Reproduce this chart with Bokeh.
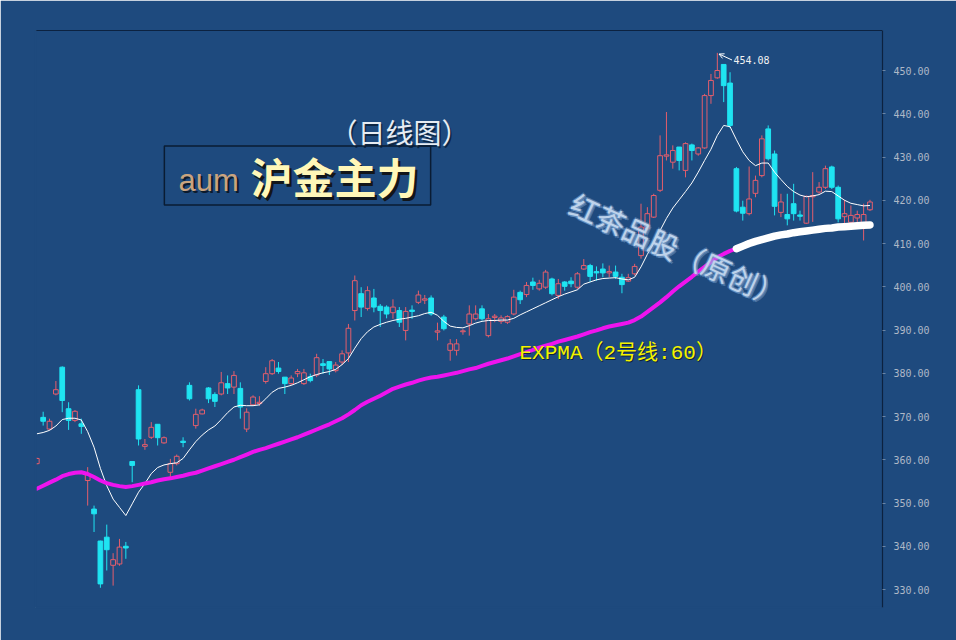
import math
from bokeh.plotting import figure
from bokeh.models import (ColumnDataSource, Range1d, FixedTicker, NumeralTickFormatter,
                          LinearAxis, Label, Arrow, OpenHead)
from bokeh.embed import file_html
from bokeh.resources import INLINE

# ---------------- data ----------------
opens = [359.1, 369.8, 367.1, 375.2, 381.4, 371.8, 369.1, 368.3, 355.2, 348.6,
         341.2, 342.1, 335.6, 335.9, 340.0, 359.6, 376.2, 363.1, 365.2, 368.2,
         363.9, 357.1, 359.1, 364.3, 377.2, 367.9, 370.6, 376.6, 375.1, 375.2,
         377.6, 376.8, 376.5, 367.1, 372.7, 373.0, 378.1, 379.9, 381.2, 379.1,
         377.6, 379.9, 377.6, 379.2, 379.6, 382.2, 382.7, 380.6, 382.6, 384.7,
         394.5, 398.4, 395.0, 397.4, 395.5, 395.3, 394.0, 394.5, 389.9, 394.6,
         396.4, 396.9, 397.4, 389.5, 393.0, 385.3, 385.3, 389.6, 391.4, 392.6,
         394.9, 388.7, 392.9, 392.0, 391.8, 393.7, 398.7, 398.2, 401.1, 399.5,
         399.9, 401.8, 398.0, 401.1, 401.3, 399.9, 404.1, 404.9, 403.5, 404.1,
         403.2, 403.4, 402.2, 401.3, 403.0, 407.2, 413.4, 416.1, 422.3, 430.2,
         428.8, 432.3, 426.9, 432.8, 430.7, 432.1, 444.2, 448.3, 451.4, 447.1,
         427.3, 418.4, 416.9, 421.6, 425.7, 436.5, 430.7, 417.2, 416.7, 419.2,
         416.6, 414.7, 420.8, 421.9, 423.0, 427.7, 423.0, 416.2, 414.9, 415.9,
         413.8, 417.8]
highs = [360.5, 371.1, 369.5, 378.2, 381.6, 373.3, 371.5, 369.5, 358.3, 349.4,
         341.3, 345.0, 338.4, 341.7, 341.0, 359.6, 377.2, 364.8, 368.7, 368.2,
         365.4, 360.2, 361.2, 365.2, 377.9, 371.8, 371.8, 376.8, 375.6, 380.3,
         379.5, 380.5, 377.9, 371.9, 374.9, 374.7, 381.4, 383.3, 382.6, 379.1,
         379.5, 381.0, 381.0, 379.9, 384.5, 383.3, 382.7, 382.6, 385.3, 391.4,
         402.6, 399.9, 400.1, 399.5, 396.0, 395.7, 397.1, 395.3, 395.3, 395.7,
         399.1, 398.1, 398.0, 391.7, 393.5, 387.9, 387.9, 390.2, 395.7, 395.7,
         395.7, 393.7, 393.7, 393.4, 393.4, 399.3, 399.1, 401.1, 402.1, 401.6,
         403.9, 402.1, 401.8, 401.3, 402.2, 403.4, 406.4, 405.3, 404.7, 405.4,
         404.9, 404.9, 403.0, 403.0, 405.3, 419.2, 418.4, 421.5, 435.0, 440.4,
         432.7, 432.3, 433.4, 433.1, 432.3, 444.6, 449.2, 454.08, 451.4, 449.6,
         427.7, 419.9, 427.8, 425.7, 435.0, 437.3, 431.5, 421.5, 421.5, 423.8,
         417.6, 421.1, 426.5, 424.2, 428.0, 428.0, 423.4, 420.1, 418.8, 417.6,
         419.2, 420.1]
lows = [358.9, 367.9, 366.8, 374.9, 371.0, 366.9, 368.7, 366.0, 349.4, 343.3,
        330.4, 334.4, 330.9, 335.5, 337.1, 354.8, 363.3, 362.3, 364.8, 363.3,
        363.7, 355.6, 358.7, 362.9, 373.7, 367.2, 370.5, 373.1, 372.2, 374.9,
        375.2, 375.2, 369.5, 366.4, 372.5, 372.5, 377.6, 379.6, 379.9, 375.2,
        377.3, 379.1, 377.3, 377.9, 379.1, 379.9, 379.6, 380.2, 381.9, 382.6,
        392.2, 393.0, 394.5, 394.1, 390.7, 392.7, 392.6, 390.7, 387.6, 392.6,
        396.0, 396.0, 393.3, 387.6, 389.9, 382.9, 384.1, 388.9, 388.7, 392.2,
        392.2, 388.3, 391.8, 391.4, 391.4, 393.4, 396.0, 397.6, 399.3, 399.1,
        399.5, 398.0, 397.2, 399.1, 399.9, 399.5, 403.9, 401.1, 401.4, 402.2,
        402.2, 401.8, 398.5, 401.1, 402.6, 406.5, 413.0, 415.9, 421.9, 429.2,
        427.3, 426.9, 425.3, 429.2, 430.3, 431.9, 442.3, 448.1, 442.7, 436.7,
        417.2, 415.3, 416.5, 420.7, 425.3, 429.2, 416.5, 416.1, 414.2, 415.3,
        415.3, 414.5, 415.0, 421.5, 422.6, 422.6, 414.9, 414.5, 414.7, 414.7,
        410.7, 417.5]
closes = [360.3, 368.9, 368.9, 376.2, 373.7, 369.1, 371.2, 367.7, 356.6, 347.5,
          331.3, 339.2, 336.9, 339.8, 339.6, 358.7, 364.8, 363.5, 367.5, 365.1,
          365.1, 359.1, 360.8, 364.0, 374.1, 370.5, 371.5, 374.1, 373.5, 377.8,
          376.6, 379.5, 372.2, 371.0, 374.5, 373.3, 379.9, 382.9, 380.4, 377.6,
          378.9, 380.4, 380.1, 378.3, 383.6, 381.8, 381.0, 381.9, 384.5, 390.4,
          401.4, 395.3, 399.1, 395.3, 394.5, 393.7, 395.3, 391.8, 394.3, 394.3,
          398.1, 397.2, 393.7, 389.8, 390.3, 386.8, 386.8, 389.8, 393.7, 393.7,
          392.6, 392.6, 393.2, 392.8, 393.1, 397.6, 397.0, 400.3, 400.3, 400.8,
          403.4, 398.4, 400.7, 400.1, 400.7, 403.0, 404.9, 402.4, 403.2, 403.2,
          403.5, 402.4, 400.5, 402.1, 404.7, 413.8, 416.9, 421.1, 430.3, 430.5,
          431.5, 429.2, 433.1, 431.5, 432.1, 444.2, 447.7, 450.0, 446.5, 437.3,
          417.5, 417.0, 420.3, 424.6, 434.2, 429.6, 418.6, 419.6, 415.7, 416.9,
          416.3, 420.9, 421.1, 423.0, 427.3, 423.0, 415.7, 416.9, 416.5, 416.7,
          416.7, 419.6]
ema_short = [366.0, 366.3, 366.8, 367.8, 369.3, 369.6, 369.6, 369.2, 366.5, 362.9,
             358.0, 354.0, 350.9, 349.0, 347.1, 349.8, 352.5, 354.5, 356.8, 358.2,
             358.8, 359.1, 359.3, 360.3, 362.3, 364.2, 365.7, 366.9, 367.8, 369.3,
             370.9, 372.2, 372.6, 372.5, 372.5, 372.7, 374.1, 375.6, 376.5, 376.8,
             377.2, 377.8, 378.5, 379.2, 379.7, 380.1, 380.4, 380.9, 382.0, 383.4,
             385.8, 388.0, 389.6, 390.7, 391.3, 391.8, 392.2, 392.5, 392.7, 393.0,
             393.3, 393.8, 394.1, 393.4, 392.0, 390.9, 390.6, 390.5, 391.0, 391.6,
             392.0, 392.2, 392.2, 392.3, 392.3, 392.7, 393.5, 394.2, 394.9, 395.6,
             396.3, 397.0, 397.7, 398.3, 398.8, 399.3, 400.6, 401.1, 401.6, 401.9,
             402.0, 402.1, 401.8, 401.6, 402.2, 404.6, 407.5, 410.0, 413.0, 415.8,
             418.2, 420.1, 422.0, 424.0, 426.5, 429.2, 431.8, 435.0, 437.3, 437.0,
             434.0, 431.2, 429.2, 428.0, 428.6, 428.6, 426.5, 424.8, 423.2, 422.0,
             421.2, 420.8, 421.0, 421.3, 422.1, 422.0, 421.0, 420.0, 419.3, 419.0,
             418.7, 418.8]
expma60 = [353.3, 354.0, 354.7, 355.4, 356.2, 356.7, 357.0, 357.1, 356.7, 356.0,
           355.2, 354.6, 354.2, 353.9, 353.7, 353.9, 354.2, 354.5, 354.8, 355.2,
           355.5, 355.7, 356.0, 356.3, 356.7, 357.0, 357.5, 358.0, 358.5, 359.0,
           359.5, 360.0, 360.6, 361.2, 361.8, 362.3, 362.7, 363.2, 363.7, 364.2,
           364.7, 365.2, 365.8, 366.4, 367.0, 367.6, 368.2, 368.9, 369.6, 370.5,
           371.5, 372.6, 373.4, 374.1, 374.8, 375.6, 376.4, 376.9, 377.4, 377.8,
           378.3, 378.7, 379.0, 379.2, 379.5, 379.8, 380.1, 380.5, 380.9, 381.2,
           381.7, 382.2, 382.6, 383.0, 383.4, 383.9, 384.4, 384.9, 385.4, 385.9,
           386.4, 386.8, 387.3, 387.7, 388.1, 388.5, 389.0, 389.5, 389.9, 390.4,
           390.8, 391.1, 391.4, 391.7, 392.3, 393.1, 394.2, 395.3, 396.4, 397.6,
           398.9, 400.1, 401.2, 402.3, 403.5, 404.6, 405.7, 406.8, 407.6, 408.3,
           408.8, 409.4, 410.0, 410.5, 410.9, 411.3, 411.7, 412.0, 412.2, 412.5,
           412.7, 412.9, 413.1, 413.3, 413.5, 413.6, 413.8, 413.9, 414.0, 414.1,
           414.2, 414.3]
price_ticks = [330, 340, 350, 360, 370, 380, 390, 400, 410, 420, 430, 440, 450]
peak_text = "454.08"
expma_split = 110   # index where the EXPMA line continues as the white hand-drawn stroke

# ---------------- styling ----------------
BG = "#1e4a7e"
UP = "#e45e6c"
DOWN = "#1fe4f2"
DARK = "#0c2240"
W, H = 956, 640

n = len(opens)
idx = list(range(n))
up = [c >= o for o, c in zip(opens, closes)]
col = [UP if u else DOWN for u in up]
fill = [BG if u else DOWN for u in up]
top = [max(o, c) for o, c in zip(opens, closes)]
bot = [min(o, c) for o, c in zip(opens, closes)]

src = ColumnDataSource(dict(x=idx, o=opens, h=highs, l=lows, c=closes,
                            top=top, bot=bot, col=col, fill=fill))

# frame geometry (pixels): left 35, right 882, top 30, bottom 607
X0, X1 = -0.204, 132.97
Y0, Y1 = 325.84, 459.25
FL, FR, FT, FB = 35, 882, 30, 607

p = figure(width=W, height=H, output_backend="svg", toolbar_location=None,
           x_range=Range1d(X0, X1), y_range=Range1d(Y0, Y1),
           x_axis_location=None, y_axis_location="right",
           min_border_left=FL, min_border_right=W - FR,
           min_border_top=FT, min_border_bottom=H - FB)
p.background_fill_color = BG
p.border_fill_color = BG
p.outline_line_color = None
p.grid.visible = False

yax = p.yaxis[0]
yax.ticker = FixedTicker(ticks=price_ticks)
yax.formatter = NumeralTickFormatter(format="0.00")
yax.axis_line_color = DARK
yax.axis_line_width = 1.2
yax.major_tick_line_color = "#6d86a6"
yax.major_tick_in = 0
yax.major_tick_out = 3
yax.minor_tick_line_color = None
yax.major_label_standoff = 8
yax.major_label_text_font = "DejaVu Sans Mono"
yax.major_label_text_font_size = "10px"
yax.major_label_text_color = "#aeb8c7"


def bare_axis(color, width):
    return LinearAxis(ticker=FixedTicker(ticks=[]), axis_line_color=color,
                      major_tick_line_color=None, minor_tick_line_color=None,
                      major_label_text_font_size="0px", axis_line_width=width)


p.add_layout(bare_axis(DARK, 1.2), "above")
# background-coloured edges hide the seam between frame and border fill
p.add_layout(bare_axis(BG, 2.5), "left")
p.add_layout(bare_axis(BG, 2.5), "below")

# candles
p.segment(x0="x", y0="l", x1="x", y1="h", color="col", line_width=1, source=src)
p.vbar(x="x", width=0.74, top="top", bottom="bot", fill_color="fill",
       line_color="col", line_width=1, source=src)

# moving averages
p.line(idx, ema_short, line_color="white", line_width=1)
p.line(idx[:expma_split + 1], expma60[:expma_split + 1], line_color="#ee14ee",
       line_width=4, line_cap="round", line_join="round")
p.line(idx[expma_split:], expma60[expma_split:], line_color="white",
       line_width=7.5, line_cap="round", line_join="round")


def px_x(px):
    return X0 + (px - FL) / (FR - FL) * (X1 - X0)


def px_y(py):
    return Y1 - (py - FT) / (FB - FT) * (Y1 - Y0)


def add_text(txt, px, py, size, color, font, align="left", baseline="middle",
             angle=0.0, alpha=1.0, style="normal"):
    p.add_layout(Label(x=px_x(px), y=px_y(py), text=txt, text_font=font,
                       text_font_size=size, text_color=color, text_alpha=alpha,
                       text_align=align, text_baseline=baseline, angle=angle,
                       text_font_style=style))


# title texts
add_text("（日线图）", 330.5, 133, "28px", "#0d2644", "Noto Sans CJK SC")
add_text("（日线图）", 329, 131.5, "28px", "#e6ecf3", "Noto Sans CJK SC")

# framed name plate (empty label whose border draws the frame)
p.add_layout(Label(x=px_x(297), y=px_y(175), text=" ", text_font_size="1px",
                   text_align="center", text_baseline="middle",
                   padding=(133, 133, 29, 29), border_line_color="#0a1c33",
                   border_line_width=1.5, background_fill_color=None))
add_text("aum", 180, 182, "31px", "#0b1a2c", "Liberation Sans")
add_text("aum", 178, 180, "31px", "#caa47f", "Liberation Sans")
add_text("沪金主力", 252.5, 177.5, "42px", "#12161a", "Noto Sans CJK SC", style="bold")
add_text("沪金主力", 250, 175, "42px", "#fff7b8", "Noto Sans CJK SC", style="bold")

# rotated watermark text with glow
ang = -math.radians(24.3)
for ox, oy in [(-1.5, 0), (1.5, 0), (0, -1.5), (0, 1.5), (2, 2)]:
    add_text("红茶品股（原创）", 571.6 + ox, 200.6 + oy, "29px", "#8fb4de",
             "Noto Sans CJK SC", angle=ang, alpha=0.4)
add_text("红茶品股（原创）", 571.6, 200.6, "29px", "#c9dcf1", "Noto Sans CJK SC",
         angle=ang, alpha=0.9)

# EXPMA label
add_text("EXPMA（2号线:60）", 520, 354, "21px", "#10233a",
         "Liberation Mono, Noto Sans CJK SC")
add_text("EXPMA（2号线:60）", 519, 353, "21px", "#f3f300",
         "Liberation Mono, Noto Sans CJK SC")

# peak annotation
p.add_layout(Arrow(end=OpenHead(size=5, line_color="white", line_width=1),
                   x_start=px_x(731.5), y_start=px_y(59.5),
                   x_end=px_x(718.5), y_end=px_y(53.5),
                   line_color="white", line_width=1))
add_text(peak_text, 733, 59, "10px", "#f2f2f2", "DejaVu Sans Mono")

open("out.html", "w").write(file_html(p, INLINE))
